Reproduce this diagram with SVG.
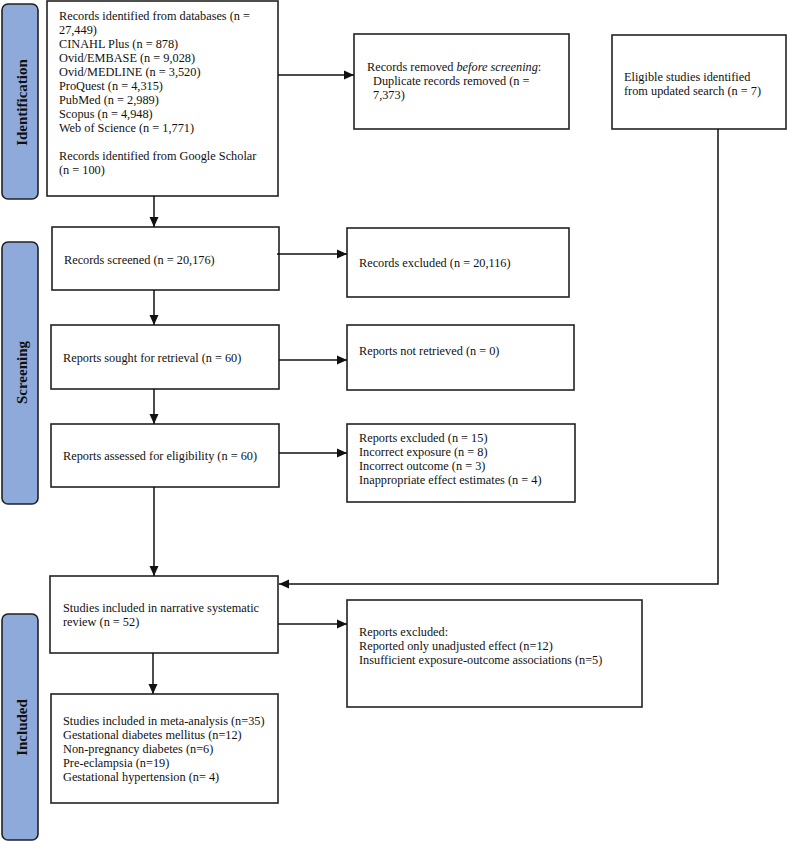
<svg xmlns="http://www.w3.org/2000/svg" width="787" height="842" viewBox="0 0 787 842">
<style>
.box{fill:#fff;stroke:#222;stroke-width:1.6}
.bar{fill:#8eaadb;stroke:#222;stroke-width:1.6}
.t{font-family:"Liberation Serif","Times New Roman",serif;font-size:12.3px;fill:#111}
.lab{font-family:"Liberation Serif","Times New Roman",serif;font-size:15px;font-weight:bold;fill:#111;text-anchor:middle}
.c{fill:none;stroke:#111;stroke-width:1.5}
</style>
<defs>
<marker id="ah" viewBox="0 0 10 10" refX="10" refY="5" markerWidth="10" markerHeight="10" markerUnits="userSpaceOnUse" orient="auto">
<path d="M0,0.5 L10,5 L0,9.5 Z" fill="#111"/>
</marker>
</defs>
<rect width="787" height="842" fill="#fff"/>
<g id="phase-identification">
<rect class="bar" x="2" y="4" width="36" height="195" rx="6"/>
<text class="lab" transform="translate(26.5,102.5) rotate(-90)">Identification</text>
</g>
<g id="phase-screening">
<rect class="bar" x="2" y="242" width="36" height="262" rx="6"/>
<text class="lab" transform="translate(26.5,372.5) rotate(-90)">Screening</text>
</g>
<g id="phase-included">
<rect class="bar" x="2" y="614" width="36" height="226" rx="6"/>
<text class="lab" transform="translate(26.5,727.5) rotate(-90)">Included</text>
</g>
<g id="records-identified">
<rect class="box" x="47" y="1" width="231" height="195"/>
<text class="t" x="59" y="19.5">Records identified from databases (n =</text>
<text class="t" x="59" y="33.6">27,449)</text>
<text class="t" x="59" y="47.7">CINAHL Plus (n = 878)</text>
<text class="t" x="59" y="61.8">Ovid/EMBASE (n = 9,028)</text>
<text class="t" x="59" y="75.9">Ovid/MEDLINE (n = 3,520)</text>
<text class="t" x="59" y="90">ProQuest (n = 4,315)</text>
<text class="t" x="59" y="104.1">PubMed (n = 2,989)</text>
<text class="t" x="59" y="118.2">Scopus (n = 4,948)</text>
<text class="t" x="59" y="132.3">Web of Science (n = 1,771)</text>
<text class="t" x="59" y="159.5">Records identified from Google Scholar</text>
<text class="t" x="59" y="173.6">(n = 100)</text>
</g>
<g id="records-removed">
<rect class="box" x="354" y="34" width="215" height="95"/>
<text class="t" x="367" y="71">Records removed <tspan font-style="italic">before screening</tspan>:</text>
<text class="t" x="373" y="85">Duplicate records removed (n =</text>
<text class="t" x="373" y="99">7,373)</text>
</g>
<g id="updated-search">
<rect class="box" x="612" y="35" width="174" height="94"/>
<text class="t" x="624" y="81">Eligible studies identified</text>
<text class="t" x="624" y="95">from updated search (n = 7)</text>
</g>
<g id="records-screened">
<rect class="box" x="52" y="227" width="227" height="63"/>
<text class="t" x="64" y="264">Records screened (n = 20,176)</text>
</g>
<g id="records-excluded">
<rect class="box" x="347" y="228" width="222" height="69"/>
<text class="t" x="359" y="267">Records excluded (n = 20,116)</text>
</g>
<g id="reports-sought">
<rect class="box" x="51" y="325" width="228" height="64"/>
<text class="t" x="63" y="362">Reports sought for retrieval (n = 60)</text>
</g>
<g id="reports-not-retrieved">
<rect class="box" x="347" y="325" width="227" height="65"/>
<text class="t" x="359" y="355">Reports not retrieved (n = 0)</text>
</g>
<g id="reports-assessed">
<rect class="box" x="51" y="424" width="228" height="63"/>
<text class="t" x="63" y="460">Reports assessed for eligibility (n = 60)</text>
</g>
<g id="reports-excluded-1">
<rect class="box" x="347" y="424" width="228" height="78"/>
<text class="t" x="359" y="442">Reports excluded (n = 15)</text>
<text class="t" x="359" y="456">Incorrect exposure (n = 8)</text>
<text class="t" x="359" y="470">Incorrect outcome (n = 3)</text>
<text class="t" x="359" y="484">Inappropriate effect estimates (n = 4)</text>
</g>
<g id="narrative-review">
<rect class="box" x="50" y="576" width="228" height="77"/>
<text class="t" x="63" y="612">Studies included in narrative systematic</text>
<text class="t" x="63" y="626">review (n = 52)</text>
</g>
<g id="reports-excluded-2">
<rect class="box" x="347" y="600" width="295" height="107"/>
<text class="t" x="359" y="636">Reports excluded:</text>
<text class="t" x="359" y="650">Reported only unadjusted effect (n=12)</text>
<text class="t" x="359" y="664">Insufficient exposure-outcome associations (n=5)</text>
</g>
<g id="meta-analysis">
<rect class="box" x="51" y="694" width="227" height="109"/>
<text class="t" x="63" y="725">Studies included in meta-analysis (n=35)</text>
<text class="t" x="63" y="739">Gestational diabetes mellitus (n=12)</text>
<text class="t" x="63" y="753">Non-pregnancy diabetes (n=6)</text>
<text class="t" x="63" y="767">Pre-eclampsia (n=19)</text>
<text class="t" x="63" y="781">Gestational hypertension (n= 4)</text>
</g>
<g id="connectors">
<line class="c" x1="278" y1="75" x2="354" y2="75" marker-end="url(#ah)"/>
<line class="c" x1="154" y1="196" x2="154" y2="227" marker-end="url(#ah)"/>
<line class="c" x1="277" y1="254" x2="347" y2="254" marker-end="url(#ah)"/>
<line class="c" x1="154" y1="290" x2="154" y2="325" marker-end="url(#ah)"/>
<line class="c" x1="279" y1="360" x2="347" y2="360" marker-end="url(#ah)"/>
<line class="c" x1="154" y1="389" x2="154" y2="424" marker-end="url(#ah)"/>
<line class="c" x1="279" y1="453" x2="347" y2="453" marker-end="url(#ah)"/>
<line class="c" x1="154" y1="487" x2="154" y2="576" marker-end="url(#ah)"/>
<polyline class="c" points="718,129 718,584 279,584" marker-end="url(#ah)"/>
<line class="c" x1="278" y1="624" x2="347" y2="624" marker-end="url(#ah)"/>
<line class="c" x1="153" y1="653" x2="153" y2="694" marker-end="url(#ah)"/>
</g>
</svg>
